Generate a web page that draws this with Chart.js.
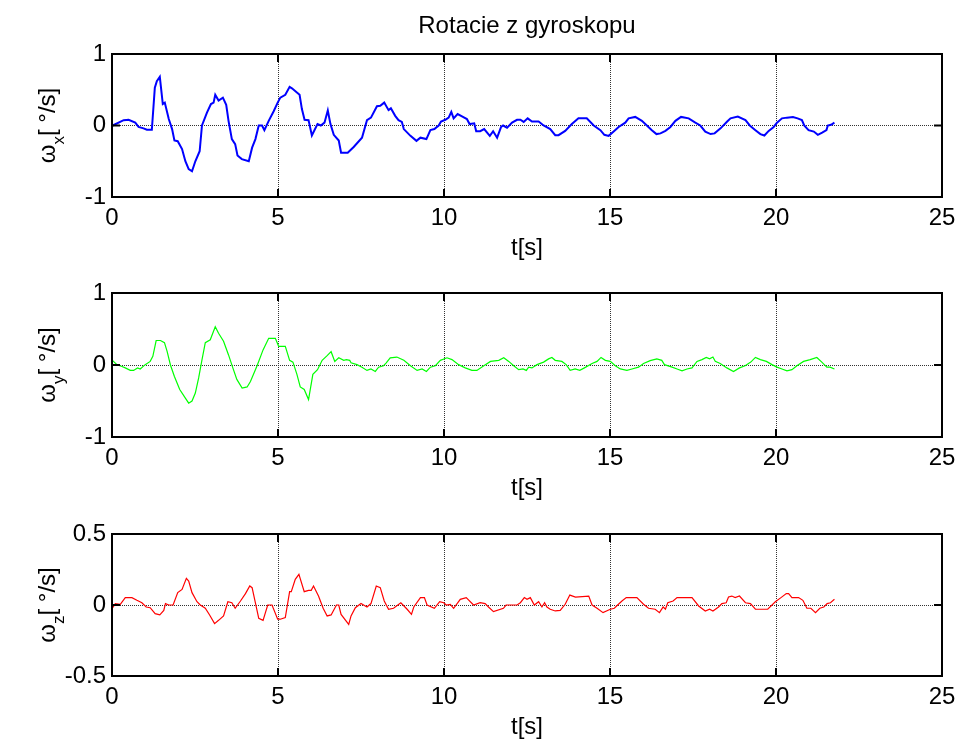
<!DOCTYPE html>
<html><head><meta charset="utf-8">
<script src="https://cdn.jsdelivr.net/npm/chart.js@4.4.1/dist/chart.umd.min.js"></script>
<style>
html,body{margin:0;padding:0;background:#fff;width:958px;height:743px;overflow:hidden}
canvas{position:absolute;left:0}
</style></head><body>
<canvas id="c1" width="958" height="270" style="top:0px"></canvas>
<canvas id="c2" width="958" height="235" style="top:270px"></canvas>
<canvas id="c3" width="958" height="238" style="top:505px"></canvas>
<script>
// ---------- data ----------
const title = "Rotacie z gyroskopu";
const xLabel = "t[s]";
const xTicks = [0, 5, 10, 15, 20, 25];

const tX = [0.02,0.35,0.5,0.7,0.8,0.95,1.05,1.2,1.29,1.35,1.44,1.53,1.59,1.71,1.81,1.88,1.98,2.11,2.21,2.31,2.41,2.51,2.64,2.71,2.86,2.98,3.06,3.11,3.21,3.34,3.44,3.51,3.61,3.71,3.78,3.91,4.12,4.22,4.32,4.42,4.52,4.59,4.72,4.87,4.99,5.07,5.22,5.35,5.42,5.65,5.72,5.80,5.92,6.02,6.19,6.29,6.40,6.50,6.58,6.68,6.83,6.90,7.10,7.28,7.53,7.68,7.80,7.98,8.08,8.20,8.33,8.40,8.53,8.63,8.73,8.79,8.99,9.17,9.29,9.47,9.59,9.71,9.84,9.91,10.04,10.14,10.22,10.29,10.41,10.57,10.69,10.77,10.91,10.97,11.09,11.21,11.38,11.48,11.60,11.72,11.78,11.90,12.05,12.20,12.30,12.40,12.52,12.65,12.85,13.00,13.20,13.35,13.45,13.65,13.85,14.05,14.30,14.51,14.71,14.83,14.96,15.11,15.26,15.46,15.56,15.76,15.96,16.11,16.26,16.40,16.52,16.67,16.82,16.97,17.14,17.37,17.57,17.72,17.87,18.03,18.15,18.33,18.53,18.63,18.85,19.08,19.21,19.38,19.53,19.65,19.78,19.93,20.03,20.18,20.33,20.51,20.65,20.78,20.85,20.98,21.14,21.26,21.39,21.52,21.56,21.66,21.76];
const wX = [0.00,0.075,0.08,0.04,-0.02,-0.04,-0.06,-0.06,0.53,0.62,0.68,0.30,0.32,0.09,-0.05,-0.21,-0.22,-0.33,-0.50,-0.61,-0.64,-0.50,-0.36,0.00,0.18,0.30,0.32,0.43,0.35,0.39,0.29,0.065,-0.19,-0.26,-0.42,-0.47,-0.50,-0.31,-0.19,0.00,0.00,-0.065,0.065,0.20,0.32,0.39,0.43,0.54,0.52,0.43,0.23,0.08,0.075,-0.14,0.02,0.00,0.04,0.21,0.02,-0.13,-0.21,-0.38,-0.38,-0.30,-0.17,0.075,0.11,0.27,0.275,0.32,0.215,0.24,0.135,0.075,0.05,-0.05,-0.145,-0.215,-0.17,-0.19,-0.065,-0.05,0.00,0.056,0.08,0.11,0.19,0.10,0.16,0.12,0.09,0.02,0.03,-0.08,-0.08,-0.05,-0.145,-0.08,-0.17,-0.02,0.00,-0.03,0.04,0.08,0.08,0.05,0.10,0.055,0.055,0.00,-0.05,-0.135,-0.135,-0.075,0.02,0.10,0.10,0.00,-0.065,-0.13,-0.145,-0.085,-0.02,0.04,0.10,0.12,0.065,0.00,-0.065,-0.12,-0.11,-0.075,-0.02,0.065,0.12,0.10,0.04,0.00,-0.085,-0.12,-0.11,-0.04,0.055,0.10,0.125,0.075,0.00,-0.065,-0.12,-0.14,-0.075,-0.02,0.04,0.10,0.11,0.12,0.10,0.075,0.00,-0.065,-0.085,-0.13,-0.10,-0.065,0.00,0.01,0.04];

const tY = [0.02,0.15,0.30,0.40,0.55,0.65,0.77,0.85,1.00,1.15,1.23,1.33,1.46,1.58,1.66,1.76,1.88,2.04,2.21,2.31,2.41,2.51,2.61,2.71,2.81,2.96,3.11,3.21,3.36,3.51,3.64,3.76,3.92,4.07,4.17,4.37,4.55,4.72,4.92,5.02,5.22,5.35,5.45,5.57,5.67,5.79,5.92,6.05,6.19,6.33,6.48,6.60,6.71,6.83,6.98,7.06,7.16,7.20,7.38,7.53,7.68,7.80,7.93,8.03,8.18,8.26,8.38,8.58,8.79,8.99,9.19,9.34,9.47,9.59,9.74,9.89,10.09,10.24,10.44,10.64,10.84,10.99,11.20,11.40,11.65,11.80,11.95,12.10,12.25,12.38,12.48,12.55,12.65,12.80,13.00,13.15,13.25,13.35,13.55,13.68,13.80,13.95,14.09,14.23,14.46,14.61,14.73,14.86,15.01,15.16,15.31,15.51,15.66,15.86,16.01,16.21,16.41,16.56,16.64,16.87,17.02,17.17,17.32,17.47,17.62,17.77,17.90,18.00,18.10,18.17,18.32,18.52,18.72,18.90,19.07,19.24,19.38,19.53,19.71,19.88,20.03,20.18,20.33,20.48,20.63,20.83,21.03,21.23,21.38,21.53,21.63,21.76];
const wY = [0.06,0.005,-0.02,-0.04,-0.075,-0.075,-0.04,-0.055,0.005,0.05,0.12,0.34,0.34,0.31,0.19,0.00,-0.16,-0.34,-0.46,-0.53,-0.50,-0.39,-0.18,0.07,0.31,0.35,0.53,0.44,0.33,0.14,-0.04,-0.20,-0.32,-0.305,-0.23,-0.01,0.21,0.37,0.37,0.26,0.26,0.065,0.04,-0.13,-0.305,-0.34,-0.48,-0.13,-0.065,0.065,0.13,0.185,0.05,0.10,0.065,0.075,0.065,0.03,0.005,-0.03,-0.075,-0.055,-0.09,-0.03,-0.01,0.03,0.10,0.11,0.065,-0.01,-0.075,-0.055,-0.09,-0.03,-0.01,0.065,0.10,0.075,0.005,-0.04,-0.075,-0.075,-0.01,0.05,0.065,0.10,0.05,-0.01,-0.065,-0.055,-0.075,-0.03,-0.04,0.005,0.04,0.085,0.105,0.065,0.05,0.005,-0.075,-0.055,-0.075,-0.04,0.02,0.05,0.105,0.065,0.05,-0.01,-0.055,-0.075,-0.055,-0.03,0.02,0.06,0.085,0.065,0.005,-0.03,-0.055,-0.08,-0.055,-0.04,0.05,0.075,0.105,0.085,0.11,0.05,0.02,-0.04,-0.09,-0.04,-0.01,0.04,0.105,0.075,0.05,0.005,-0.03,-0.055,-0.08,-0.065,-0.01,0.05,0.075,0.105,0.04,-0.03,-0.03,-0.055];

const tZ = [0.02,0.10,0.25,0.40,0.60,0.75,0.90,1.03,1.15,1.30,1.44,1.56,1.61,1.71,1.84,1.98,2.11,2.24,2.31,2.41,2.56,2.66,2.81,2.94,3.09,3.21,3.36,3.49,3.61,3.71,3.87,4.02,4.15,4.22,4.42,4.55,4.69,4.82,4.99,5.07,5.22,5.35,5.40,5.52,5.63,5.79,5.92,6.00,6.07,6.22,6.36,6.48,6.60,6.76,6.83,6.90,7.13,7.20,7.33,7.50,7.68,7.80,7.96,8.08,8.20,8.33,8.48,8.70,8.89,9.02,9.09,9.29,9.41,9.49,9.71,9.87,9.99,10.07,10.19,10.29,10.49,10.67,10.89,11.09,11.24,11.34,11.49,11.79,11.87,12.20,12.30,12.42,12.50,12.60,12.72,12.85,12.95,13.03,13.10,13.20,13.35,13.50,13.65,13.79,13.96,14.36,14.46,14.61,14.79,15.01,15.13,15.23,15.36,15.49,15.81,16.01,16.16,16.36,16.49,16.60,16.67,16.74,16.90,17.02,17.47,17.67,17.87,18.00,18.10,18.27,18.37,18.50,18.57,18.67,18.77,18.90,19.08,19.23,19.38,19.75,19.98,20.15,20.31,20.38,20.48,20.68,20.81,20.93,21.05,21.19,21.32,21.44,21.54,21.64,21.76];
const wZ = [-0.019,0.01,0.005,0.052,0.052,0.033,0.016,-0.014,-0.019,-0.061,-0.07,-0.038,0.01,0.0,0.0,0.087,0.11,0.188,0.169,0.087,0.023,0.0,-0.023,-0.07,-0.131,-0.108,-0.077,0.023,0.016,-0.023,0.028,0.08,0.134,0.122,-0.094,-0.108,0.0,0.0,-0.1,-0.1,-0.089,0.094,0.094,0.181,0.216,0.094,0.103,0.103,0.134,0.063,-0.023,-0.077,-0.07,0.0,0.0,-0.066,-0.136,-0.077,-0.019,0.01,-0.014,0.01,0.134,0.122,0.028,-0.03,-0.023,0.016,-0.03,-0.066,-0.014,0.052,0.052,0.0,-0.023,0.023,0.016,0.0,0.005,-0.023,0.04,0.052,0.0,0.016,0.01,-0.014,-0.047,-0.023,0.0,0.0,0.016,0.052,0.04,0.052,0.0,0.023,-0.014,0.016,-0.014,-0.03,-0.042,-0.038,0.005,0.07,0.056,0.063,0.0,-0.023,-0.054,-0.03,-0.023,0.0,0.028,0.052,0.052,0.005,-0.023,-0.03,-0.054,-0.014,-0.03,0.016,0.028,0.052,0.052,-0.007,-0.042,-0.03,-0.042,-0.014,0.01,0.016,0.056,0.063,0.052,0.063,0.016,0.01,-0.03,-0.03,0.023,0.052,0.08,0.08,0.052,0.052,0.033,-0.023,-0.023,-0.054,-0.023,-0.014,0.01,0.016,0.04];

// ---------- styling ----------
const FONT = "'Liberation Sans', Arial, Helvetica, sans-serif";
Chart.defaults.font.family = FONT;
Chart.defaults.font.size = 24;
Chart.defaults.color = '#000';

const frame = {
  id: 'frame',
  afterDraw(chart) {
    const {ctx, chartArea: a, scales} = chart;
    ctx.save();
    ctx.strokeStyle = '#000';
    ctx.lineWidth = 2;
    const L = 8;
    ctx.beginPath();
    scales.x.ticks.forEach(t => {
      const px = scales.x.getPixelForValue(t.value);
      ctx.moveTo(px, a.top); ctx.lineTo(px, a.top + L);
      ctx.moveTo(px, a.bottom); ctx.lineTo(px, a.bottom - L);
    });
    scales.y.ticks.forEach(t => {
      const py = scales.y.getPixelForValue(t.value);
      ctx.moveTo(a.left, py); ctx.lineTo(a.left + L, py);
      ctx.moveTo(a.right, py); ctx.lineTo(a.right - L, py);
    });
    ctx.stroke();
    ctx.strokeRect(a.left, a.top, a.right - a.left, a.bottom - a.top);
    // rotated y label with subscript
    const lab = chart.options.plugins.frame;
    const cy = (a.top + a.bottom) / 2;
    ctx.translate(55, cy);
    ctx.rotate(-Math.PI / 2);
    ctx.fillStyle = '#000';
    ctx.textBaseline = 'alphabetic';
    ctx.textAlign = 'left';
    const big = '24px ' + FONT, small = '17px ' + FONT;
    ctx.font = big; const w1 = ctx.measureText('ω').width;
    ctx.font = small; const w2 = ctx.measureText(lab.sub).width;
    ctx.font = big; const w3 = ctx.measureText(lab.unit).width;
    let x0 = -(w1 + w2 + w3) / 2;
    ctx.font = big; ctx.fillText('ω', x0, 0);
    ctx.font = small; ctx.fillText(lab.sub, x0 + w1, 9);
    ctx.font = big; ctx.fillText(lab.unit, x0 + w1 + w2, 0);
    ctx.restore();
  }
};

function makeChart(id, t, w, color, lw, yMin, yMax, yStep, sub, padTop, axisH, titlePadB, withTitle) {
  const pts = t.map((v, i) => ({x: v, y: w[i]}));
  return new Chart(document.getElementById(id), {
    type: 'line',
    data: {datasets: [{data: pts, borderColor: color, borderWidth: lw, pointRadius: 0, tension: 0, fill: false}]},
    options: {
      responsive: false, animation: false, devicePixelRatio: 1,
      layout: {padding: {top: padTop, left: 0, right: 16, bottom: 0}},
      plugins: {
        legend: {display: false}, tooltip: {enabled: false},
        title: {display: withTitle, text: title, fullSize: false, font: {size: 24, weight: 'normal'}, padding: {top: 12, bottom: 13.2}},
        frame: {sub: sub, unit: '[ °/s]'}
      },
      scales: {
        x: {
          type: 'linear', min: 0, max: 25,
          afterBuildTicks: s => { s.ticks = xTicks.map(v => ({value: v})); },
          ticks: {padding: 7, maxRotation: 0, font: {size: 24}},
          grid: {color: '#333', lineWidth: 1, drawTicks: false},
          border: {display: false, dash: [1, 1]},
          title: {display: true, text: xLabel, font: {size: 24}, padding: {top: 0, bottom: titlePadB}},
          afterFit: s => { s.height = axisH; s.paddingLeft = 0; s.paddingRight = 0; }
        },
        y: {
          min: yMin, max: yMax,
          ticks: {stepSize: yStep, padding: 6, font: {size: 24}},
          grid: {color: '#333', lineWidth: 1, drawTicks: false},
          border: {display: false, dash: [1, 1]},
          afterFit: s => { s.width = 112; s.paddingTop = 0; s.paddingBottom = 0; }
        }
      }
    },
    plugins: [frame]
  });
}

makeChart('c1', tX, wX, '#0000ff', 2, -1, 1, 1, 'x', 0, 73, 7.6, true);
makeChart('c2', tY, wY, '#00ff00', 1.2, -1, 1, 1, 'y', 23, 68, 2.6, false);
makeChart('c3', tZ, wZ, '#ff0000', 1.2, -0.5, 0.5, 0.5, 'z', 29, 67, 1.6, false);
</script></body></html>
